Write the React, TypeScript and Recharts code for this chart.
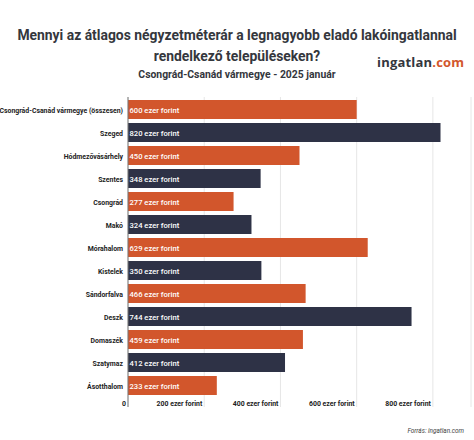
import React from 'react';
import { BarChart, Bar, XAxis, YAxis, CartesianGrid, Cell, LabelList } from 'recharts';

const towns = [
  'Csongrád-Csanád vármegye (összesen)',
  'Szeged',
  'Hódmezővásárhely',
  'Szentes',
  'Csongrád',
  'Makó',
  'Mórahalom',
  'Kistelek',
  'Sándorfalva',
  'Deszk',
  'Domaszék',
  'Szatymaz',
  'Ásotthalom',
];
const prices = [600, 820, 450, 348, 277, 324, 629, 350, 466, 744, 459, 412, 233];
const barColors = ['#D2562C', '#2E3246', '#D2562C', '#2E3246', '#D2562C', '#2E3246', '#D2562C', '#2E3246', '#D2562C', '#2E3246', '#D2562C', '#2E3246', '#D2562C'];
const priceTicks = [0, 200, 400, 600, 800];

const data = towns.map((name, i) => ({ name, price: prices[i] }));

const font = 'Roboto, sans-serif';

// the x labels sit inside the plot, right-aligned against their gridline
function PriceTick({ x, payload }: any) {
  return (
    <text x={x - 2} y={309} textAnchor="end" fontFamily={font} fontSize={6.9} fontWeight={700} fill="#222">
      {payload.value === 0 ? '0' : `${payload.value} ezer forint`}
    </text>
  );
}

// plain text so the long county name stays on one line
function TownTick({ x, y, payload }: any) {
  return (
    <text x={x + 3} y={y + 3} textAnchor="end" fontFamily={font} fontSize={6.9} fontWeight={700} fill="#222">
      {payload.value}
    </text>
  );
}

function PriceLabel({ x, y, height, value }: any) {
  return (
    <text x={x + 1.5} y={y + height / 2 + 3} fontFamily={font} fontSize={7.6} fontWeight={500} fill="#fff">
      {`${value} ezer forint`}
    </text>
  );
}

const lineStyle: React.CSSProperties = {
  position: 'absolute',
  left: 0,
  width: 474,
  textAlign: 'center',
  whiteSpace: 'nowrap',
  fontWeight: 700,
  color: '#34373d',
};

export default function App() {
  return (
    <div style={{ position: 'absolute', left: 0, top: 0, width: 474, height: 440, background: '#fff', overflow: 'hidden', fontFamily: font }}>
      <div style={{ ...lineStyle, top: 24, fontSize: 13.9, lineHeight: '22px' }}>
        Mennyi az átlagos négyzetméterár a legnagyobb eladó lakóingatlannal
      </div>
      <div style={{ ...lineStyle, top: 45, fontSize: 13.9, lineHeight: '22px' }}>
        rendelkező településeken?
      </div>
      <div style={{ ...lineStyle, top: 67, fontSize: 10.4, lineHeight: '16px' }}>
        Csongrád-Csanád vármegye - 2025 január
      </div>
      <div style={{ position: 'absolute', left: 377, top: 52, fontFamily: '"Open Sans", sans-serif', fontSize: 13, fontWeight: 700, letterSpacing: 0.2, color: '#33363d', lineHeight: '20px', whiteSpace: 'nowrap' }}>
        ingatlan<span style={{ color: '#D2562C' }}>.com</span>
      </div>
      <div style={{ position: 'absolute', right: 10, top: 426, fontSize: 6.4, fontStyle: 'italic', color: '#444', lineHeight: '10px' }}>
        Forrás: ingatlan.com
      </div>
      <div style={{ position: 'absolute', left: 0, top: 97 }}>
        <BarChart
          width={474}
          height={311}
          data={data}
          layout="vertical"
          barCategoryGap="9%"
          margin={{ top: 0, right: 3, bottom: 0, left: 0 }}
        >
          <CartesianGrid horizontal={false} stroke="#e6e6e6" />
          <XAxis
            type="number"
            domain={[0, 900]}
            ticks={priceTicks}
            height={1}
            axisLine={false}
            tickLine={false}
            tick={PriceTick}
            interval={0}
          />
          <YAxis
            type="category"
            dataKey="name"
            width={128}
            padding={{ top: 1, bottom: 10 }}
            interval={0}
            axisLine={{ stroke: '#777', strokeWidth: 1 }}
            tickLine={false}
            tick={TownTick}
          />
          <Bar dataKey="price" isAnimationActive={false}>
            {data.map((d, i) => (
              <Cell key={d.name} fill={barColors[i]} />
            ))}
            <LabelList dataKey="price" content={PriceLabel} />
          </Bar>
        </BarChart>
      </div>
    </div>
  );
}
